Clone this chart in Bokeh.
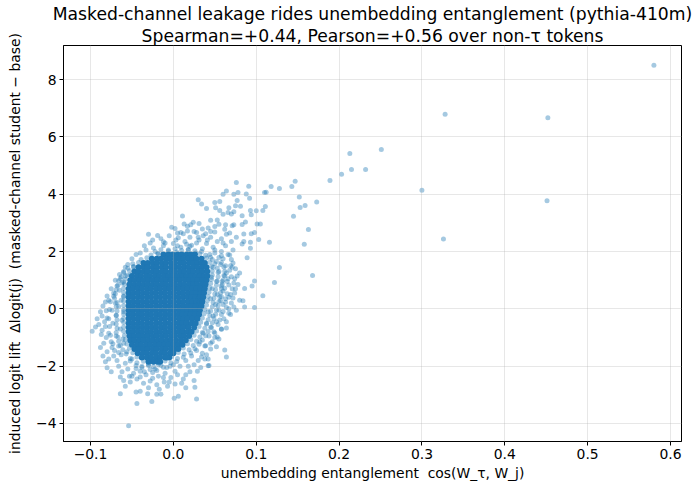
from bokeh.plotting import figure
from bokeh.models import Range1d, FixedTicker, Title
from bokeh.embed import file_html
from bokeh.resources import INLINE

NB = "\u00a0"
title_line1 = "Masked-channel leakage rides unembedding entanglement (pythia-410m)"
title_line2 = "Spearman=+0.44, Pearson=+0.56 over non-\u03c4 tokens"
x_label = "unembedding entanglement " + NB + "cos(W_\u03c4, W_j)"
y_label = ("induced logit lift " + NB + "\u0394logit(j) " + NB +
           "(masked-channel student \u2212 base)")

x_ticks = [-0.1, 0.0, 0.1, 0.2, 0.3, 0.4, 0.5, 0.6]
x_tick_labels = ["\u22120.1", "0.0", "0.1", "0.2", "0.3", "0.4", "0.5", "0.6"]
y_ticks = [-4, -2, 0, 2, 4, 6, 8]
y_tick_labels = ["\u22124", "\u22122", "0", "2", "4", "6", "8"]

# individually read sparse tokens (cos, lift)
sparse_points = [
    (0.580, 8.50), (0.328, 6.79), (0.452, 6.67), (0.251, 5.56), (0.213, 5.42),
    (0.215, 4.86), (0.232, 4.86), (0.203, 4.70), (0.189, 4.48), (0.147, 4.45),
    (0.143, 4.27), (0.118, 4.27), (0.128, 4.20), (0.110, 4.06), (0.112, 4.07),
    (0.300, 4.14), (0.451, 3.77), (0.152, 3.90), (0.173, 3.73), (0.159, 3.61),
    (0.153, 3.54), (0.111, 3.57), (0.108, 3.43), (0.145, 3.23), (0.105, 2.96),
    (0.163, 2.77), (0.326, 2.44), (0.116, 2.32), (0.158, 2.25), (0.128, 1.44),
    (0.168, 1.16), (0.122, 0.92), (0.108, 0.46),
    (0.076, 4.41), (0.091, 4.28), (0.064, 4.11), (0.073, 4.00), (0.078, 4.06),
    (0.088, 4.01), (0.092, 3.86), (0.060, 4.00), (0.030, 3.81), (0.034, 3.66),
    (0.050, 3.71), (0.056, 3.75), (0.077, 3.78), (0.081, 3.58), (0.075, 3.60),
    (0.067, 3.53), (0.040, 3.50), (0.051, 3.53), (0.056, 3.43), (0.060, 3.30),
    (0.066, 3.36), (0.070, 3.31), (0.073, 3.39), (0.083, 3.25), (0.093, 3.43),
    (0.094, 3.28), (0.100, 3.42), (0.101, 2.96), (0.087, 3.03), (0.083, 2.94),
    (0.073, 2.93), (0.063, 2.93), (0.053, 3.10), (0.050, 2.87), (0.045, 3.09),
    (0.031, 2.98), (0.024, 3.02), (0.021, 2.93), (0.013, 2.96), (0.011, 3.24),
    (0.002, 2.80), (0.009, 2.66), (0.017, 2.72), (0.028, 2.66), (0.035, 2.79),
    (0.039, 2.62), (0.068, 2.65), (0.085, 2.61), (0.094, 2.62), (0.098, 2.66),
    (0.103, 2.42), (0.085, 2.35), (0.093, 2.32), (0.093, 2.11), (0.083, 2.26),
    (-0.019, 2.56), (-0.012, 2.34), (0.089, 1.78), (0.098, 0.97), (0.095, 0.80),
    (0.098, 0.05), (0.086, 0.06), (0.086, 0.71), (0.084, 0.28), (0.073, 0.06),
    (0.069, -0.20), (0.064, -0.67), (0.058, -0.71), (0.053, -0.98), (0.052, -1.32),
    (0.062, -1.44), (0.064, -1.68), (0.042, -1.75), (0.034, -1.68), (0.043, -1.98),
    (0.029, -2.18), (0.039, -1.29), (0.047, -1.15),
    (-0.064, -2.96), (-0.044, -3.30), (-0.026, -3.23), (0.001, -3.12), (0.028, -3.15),
    (0.026, -2.74), (0.006, -3.05), (-0.020, -2.98), (-0.015, -2.98), (-0.045, -2.90),
    (-0.040, -2.88), (-0.031, -2.96), (0.042, -1.99), (-0.017, -2.81), (-0.007, -2.70),
    (0.002, -2.62), (-0.054, -4.08),
    (-0.098, -0.78), (-0.094, -0.63), (-0.081, -0.07), (-0.082, 0.24), (-0.072, 0.44),
    (-0.060, 0.94), (-0.052, 1.18), (-0.048, 1.47), (-0.082, -1.85), (-0.080, -2.06),
    (-0.064, -2.38),
]

# medium-density halo around the dense cloud
halo_points = [
    (-0.040, 1.95), (-0.033, 2.05), (-0.024, 2.12), (-0.018, 1.92), (-0.012, 2.20),
    (-0.006, 2.02), (0.000, 2.28), (0.004, 1.98), (0.009, 2.15), (0.014, 2.35),
    (0.018, 2.05), (0.022, 2.22), (0.027, 1.95), (0.031, 2.40), (0.035, 2.10),
    (0.040, 2.28), (0.044, 1.90), (0.048, 2.15), (0.053, 2.35), (0.058, 2.00),
    (0.063, 2.20), (0.068, 1.88), (0.072, 2.05),
    (-0.028, 2.30), (-0.015, 2.45), (-0.005, 2.55), (0.006, 2.48), (0.012, 2.62),
    (0.020, 2.50), (0.025, 2.70), (0.036, 2.55), (0.045, 2.50), (0.050, 2.68),
    (0.058, 2.45), (0.064, 2.60), (0.070, 2.35), (0.076, 2.50),
    (-0.002, 2.85), (0.017, 2.88), (0.042, 2.82), (0.055, 2.95), (0.062, 2.78),
    (0.071, 2.90),
    (0.045, 1.80), (0.052, 1.65), (0.058, 1.85), (0.063, 1.50), (0.070, 1.72),
    (0.075, 1.40), (0.048, 1.45), (0.055, 1.30), (0.062, 1.15), (0.068, 1.35),
    (0.074, 1.05), (0.080, 1.25), (0.046, 1.10), (0.052, 0.95), (0.058, 0.80),
    (0.065, 0.95), (0.071, 0.70), (0.078, 0.85), (0.047, 0.70), (0.053, 0.50),
    (0.060, 0.62), (0.067, 0.40), (0.074, 0.55), (0.080, 0.30), (0.045, 0.35),
    (0.051, 0.15), (0.057, 0.28), (0.064, 0.05), (0.070, 0.20), (0.076, -0.05),
    (0.042, -0.10), (0.048, -0.25), (0.055, -0.05), (0.061, -0.35), (0.067, -0.15),
    (0.040, -0.50), (0.046, -0.65), (0.052, -0.45), (0.058, -0.70), (0.036, -0.85),
    (0.043, -0.95), (0.049, -0.80), (0.055, -1.05), (0.032, -1.15), (0.038, -1.30),
    (0.045, -1.20), (0.028, -1.45), (0.035, -1.55), (0.022, -1.65), (0.030, -1.80),
    (0.015, -1.80), (0.040, -1.60),
    (-0.060, 1.30), (-0.055, 1.55), (-0.050, 1.75), (-0.045, 1.90), (-0.064, 1.05),
    (-0.058, 1.15), (-0.068, 0.80), (-0.062, 0.90), (-0.072, 0.55), (-0.065, 0.65),
    (-0.060, 0.45), (-0.078, 0.30), (-0.070, 0.20), (-0.063, 0.30), (-0.074, -0.05),
    (-0.066, 0.08), (-0.060, -0.10), (-0.086, -0.25), (-0.078, -0.35), (-0.069, -0.22),
    (-0.062, -0.40), (-0.090, -0.55), (-0.082, -0.62), (-0.073, -0.50), (-0.064, -0.70),
    (-0.087, -0.90), (-0.078, -0.85), (-0.069, -0.95), (-0.061, -1.05), (-0.084, -1.20),
    (-0.075, -1.15), (-0.066, -1.30), (-0.060, -1.20), (-0.080, -1.50), (-0.071, -1.45),
    (-0.063, -1.60), (-0.056, -1.50), (-0.078, -1.75), (-0.068, -1.80), (-0.058, -1.90),
    (-0.050, -1.75),
    (-0.045, -1.98), (-0.038, -2.05), (-0.030, -1.95), (-0.022, -2.10), (-0.015, -1.98),
    (-0.008, -2.05), (0.000, -1.95), (0.008, -2.00), (-0.055, -2.10), (-0.048, -2.25),
    (-0.040, -2.18), (-0.033, -2.30), (-0.025, -2.22), (-0.018, -2.35), (-0.010, -2.25),
    (-0.003, -2.40), (0.005, -2.30), (0.012, -2.45), (0.020, -2.20), (-0.060, -2.50),
    (-0.052, -2.55), (-0.044, -2.45), (-0.036, -2.60), (-0.028, -2.52), (-0.020, -2.65),
    (-0.011, -2.55), (0.010, -2.60), (0.018, -2.00), (0.025, -2.50),
    (0.050, 1.95), (0.060, 1.75), (0.066, 1.90), (0.072, 1.60), (0.057, 1.55),
    (0.064, 1.25), (0.071, 1.45), (0.077, 1.15), (0.059, 0.95), (0.066, 1.05),
    (0.073, 0.90), (0.062, 0.72), (0.069, 0.50), (0.075, 0.70), (0.058, 0.42),
    (0.063, 0.35), (0.072, 0.38), (0.060, 0.15), (0.067, 0.00), (0.058, -0.20),
    (0.064, -0.45), (0.054, -0.55), (0.050, -1.00), (0.045, -1.40), (0.038, -1.75),
    (0.025, -1.95), (0.033, -2.05),
    (-0.058, 1.45), (-0.065, 1.20), (-0.070, 1.00), (-0.075, 0.70), (-0.080, 0.45),
    (-0.085, 0.10), (-0.088, -0.10), (-0.083, -0.45), (-0.092, -0.35), (-0.086, -0.75),
    (-0.081, -1.00), (-0.088, -1.35), (-0.074, -1.35), (-0.085, -1.65), (-0.072, -1.65),
    (-0.066, -2.00), (-0.075, -2.20), (-0.062, -2.20), (-0.053, -2.35),
    (-0.035, 2.20), (-0.025, 2.40), (-0.010, 2.30), (0.003, 2.40), (0.016, 2.25),
    (0.028, 2.30), (0.041, 2.40), (0.050, 2.05), (0.060, 2.30), (-0.030, 2.60),
    (0.005, 2.65), (0.030, 2.50), (0.045, 2.70),
    (-0.050, -2.35), (-0.040, -2.38), (-0.025, -2.42), (-0.012, -2.40), (0.002, -2.18),
    (0.015, -2.30), (-0.058, -2.70), (-0.030, -2.75), (-0.005, -2.55), (0.015, -2.75),
]

# tokens just outside the saturated core
rim_points = [
    (-0.019, 1.93), (-0.027, 1.88), (0.032, 1.92), (0.039, 1.87),
    (-0.032, 1.78), (-0.039, 1.72), (0.040, 1.77), (0.047, 1.72), (0.055, 1.79),
    (-0.042, 1.62), (-0.049, 1.57), (0.044, 1.63), (0.050, 1.57), (0.058, 1.62),
    (-0.048, 1.47), (-0.055, 1.42), (0.046, 1.48), (0.053, 1.42), (0.061, 1.46), (0.069, 1.50),
    (-0.053, 1.33), (-0.060, 1.27), (0.047, 1.32), (0.054, 1.27), (0.062, 1.31),
    (-0.056, 1.17), (-0.063, 1.12), (0.047, 1.18), (0.054, 1.12), (0.061, 1.16), (0.070, 1.12),
    (-0.058, 1.03), (-0.066, 0.98), (0.046, 1.02), (0.053, 0.97), (0.060, 1.01),
    (-0.059, 0.87), (-0.067, 0.82), (0.045, 0.88), (0.052, 0.82), (0.059, 0.86), (0.067, 0.83),
    (-0.060, 0.72), (-0.069, 0.67), (0.044, 0.73), (0.051, 0.67), (0.058, 0.71),
    (-0.060, 0.57), (-0.070, 0.53), (0.043, 0.58), (0.050, 0.52), (0.057, 0.56), (0.065, 0.53),
    (-0.060, 0.42), (-0.071, 0.37), (0.042, 0.43), (0.049, 0.37), (0.056, 0.41),
    (-0.060, 0.27), (-0.068, 0.22), (-0.076, 0.25), (0.041, 0.28), (0.048, 0.22), (0.055, 0.26), (0.063, 0.23),
    (-0.060, 0.12), (-0.069, 0.07), (0.040, 0.13), (0.047, 0.07), (0.054, 0.11),
    (-0.060, -0.03), (-0.068, -0.08), (-0.077, -0.02), (0.038, -0.02), (0.045, -0.08), (0.052, -0.04), (0.060, -0.09),
    (-0.060, -0.18), (-0.069, -0.23), (0.037, -0.17), (0.044, -0.23), (0.051, -0.19),
    (-0.060, -0.33), (-0.068, -0.38), (-0.080, -0.32), (0.035, -0.32), (0.042, -0.38), (0.049, -0.34), (0.056, -0.39),
    (-0.060, -0.48), (-0.069, -0.53), (0.033, -0.47), (0.040, -0.53), (0.047, -0.49),
    (-0.060, -0.63), (-0.068, -0.68), (-0.077, -0.62), (0.031, -0.62), (0.038, -0.68), (0.045, -0.64),
    (-0.060, -0.78), (-0.069, -0.83), (0.028, -0.77), (0.035, -0.83), (0.042, -0.79), (0.050, -0.84),
    (-0.059, -0.93), (-0.067, -0.98), (-0.076, -0.92), (0.025, -0.92), (0.032, -0.98), (0.039, -0.94),
    (-0.058, -1.08), (-0.066, -1.13), (0.021, -1.07), (0.028, -1.13), (0.035, -1.09),
    (-0.056, -1.23), (-0.064, -1.28), (-0.073, -1.22), (0.017, -1.22), (0.024, -1.28), (0.031, -1.24),
    (-0.053, -1.38), (-0.061, -1.43), (0.012, -1.37), (0.019, -1.43), (0.026, -1.39),
    (-0.049, -1.53), (-0.057, -1.58), (-0.066, -1.52), (0.006, -1.52), (0.013, -1.58), (0.021, -1.54),
    (-0.044, -1.68), (-0.052, -1.73), (-0.002, -1.67), (0.005, -1.73), (0.012, -1.69),
    (-0.036, -1.83), (-0.044, -1.88), (-0.052, -1.82), (-0.010, -1.82), (-0.003, -1.88), (0.004, -1.84),
    (-0.006, 2.05), (0.002, 2.10), (0.010, 2.04), (0.018, 2.08), (0.026, 2.03),
    (-0.015, 2.06), (0.005, 2.20), (0.020, 2.18), (0.034, 2.00), (-0.022, 2.00),
    (-0.030, -1.98), (-0.024, -2.02), (-0.018, -1.96), (-0.012, -2.04), (-0.038, -2.00),
    (-0.045, -2.08), (-0.004, -2.00), (-0.028, -2.12), (-0.020, -2.15), (-0.035, -2.20),
]

# saturated core of the cloud, read as rows (lift level, cos values along the row)
core_row_lift = [1.90, 1.75, 1.60, 1.45, 1.30, 1.15, 1.00, 0.85, 0.70, 0.55, 0.40, 0.25,
                 0.10, -0.05, -0.20, -0.35, -0.50, -0.65, -0.80, -0.95, -1.10,
                 -1.25, -1.40, -1.55, -1.70, -1.85]
core_row_cos = [
    [-0.012, -0.006, -0.001, 0.005, 0.010, 0.016, 0.021, 0.026],
    [-0.026, -0.020, -0.015, -0.009, -0.004, 0.002, 0.007, 0.012, 0.018, 0.023, 0.028, 0.034],
    [-0.036, -0.031, -0.025, -0.020, -0.014, -0.009, -0.003, 0.002, 0.008, 0.013, 0.019, 0.024, 0.029, 0.034, 0.038],
    [-0.042, -0.036, -0.031, -0.025, -0.020, -0.014, -0.009, -0.003, 0.002, 0.007, 0.013, 0.018, 0.024, 0.029, 0.035, 0.040],
    [-0.047, -0.042, -0.036, -0.031, -0.025, -0.020, -0.014, -0.009, -0.003, 0.002, 0.008, 0.013, 0.019, 0.024, 0.030, 0.035, 0.041],
    [-0.050, -0.044, -0.039, -0.033, -0.028, -0.022, -0.017, -0.011, -0.006, 0.000, 0.005, 0.011, 0.016, 0.022, 0.027, 0.032, 0.037, 0.041],
    [-0.052, -0.047, -0.041, -0.036, -0.030, -0.025, -0.019, -0.014, -0.008, -0.003, 0.003, 0.008, 0.014, 0.019, 0.024, 0.029, 0.035, 0.040],
    [-0.053, -0.047, -0.042, -0.036, -0.031, -0.025, -0.020, -0.014, -0.009, -0.003, 0.002, 0.008, 0.013, 0.019, 0.024, 0.029, 0.034, 0.039],
    [-0.054, -0.049, -0.043, -0.038, -0.032, -0.027, -0.021, -0.016, -0.010, -0.005, 0.001, 0.006, 0.012, 0.017, 0.023, 0.028, 0.033, 0.038],
    [-0.054, -0.048, -0.043, -0.037, -0.032, -0.026, -0.021, -0.015, -0.010, -0.004, 0.001, 0.007, 0.012, 0.018, 0.023, 0.028, 0.033, 0.037],
    [-0.054, -0.049, -0.043, -0.038, -0.032, -0.027, -0.021, -0.016, -0.010, -0.005, 0.001, 0.006, 0.012, 0.017, 0.022, 0.027, 0.032, 0.036],
    [-0.054, -0.048, -0.043, -0.037, -0.032, -0.026, -0.021, -0.015, -0.010, -0.004, 0.001, 0.007, 0.012, 0.018, 0.023, 0.028, 0.032, 0.035],
    [-0.054, -0.049, -0.043, -0.038, -0.032, -0.027, -0.021, -0.016, -0.010, -0.005, 0.001, 0.006, 0.012, 0.017, 0.022, 0.027, 0.031, 0.034],
    [-0.054, -0.048, -0.043, -0.037, -0.032, -0.026, -0.021, -0.015, -0.010, -0.004, 0.001, 0.007, 0.012, 0.017, 0.022, 0.027, 0.032],
    [-0.054, -0.049, -0.043, -0.038, -0.032, -0.027, -0.021, -0.016, -0.010, -0.005, 0.001, 0.006, 0.011, 0.016, 0.021, 0.026, 0.031],
    [-0.054, -0.048, -0.043, -0.037, -0.032, -0.026, -0.021, -0.015, -0.010, -0.004, 0.001, 0.007, 0.012, 0.017, 0.023, 0.029],
    [-0.054, -0.049, -0.043, -0.038, -0.032, -0.027, -0.021, -0.016, -0.010, -0.005, 0.001, 0.006, 0.011, 0.016, 0.022, 0.027],
    [-0.054, -0.048, -0.043, -0.037, -0.032, -0.026, -0.021, -0.015, -0.010, -0.004, 0.001, 0.007, 0.012, 0.018, 0.025],
    [-0.054, -0.049, -0.043, -0.038, -0.032, -0.027, -0.021, -0.016, -0.010, -0.005, 0.001, 0.006, 0.011, 0.017, 0.022],
    [-0.053, -0.047, -0.042, -0.036, -0.031, -0.025, -0.020, -0.014, -0.009, -0.003, 0.002, 0.008, 0.013, 0.019],
    [-0.052, -0.047, -0.041, -0.036, -0.030, -0.025, -0.019, -0.014, -0.008, -0.003, 0.003, 0.009, 0.015],
    [-0.050, -0.044, -0.039, -0.033, -0.028, -0.022, -0.017, -0.011, -0.006, 0.000, 0.006, 0.011],
    [-0.047, -0.042, -0.036, -0.031, -0.025, -0.020, -0.014, -0.009, -0.003, 0.002, 0.006],
    [-0.043, -0.037, -0.032, -0.026, -0.021, -0.015, -0.010, -0.004, 0.000],
    [-0.038, -0.032, -0.027, -0.021, -0.016, -0.010, -0.005, -0.008],
    [-0.030, -0.024, -0.019, -0.016],
]

BLUE = "#1f77b4"
FONT = "DejaVu Sans"

p = figure(width=693, height=484, output_backend="svg", toolbar_location=None,
           x_range=Range1d(-0.1326, 0.6133), y_range=Range1d(-4.63, 9.19),
           min_border_left=63, min_border_right=12, min_border_top=45, min_border_bottom=43,
           background_fill_color="white", border_fill_color="white")

p.add_layout(Title(text=title_line2, align="center", text_font=FONT, text_font_size="17.2px",
                   text_font_style="normal", text_color="black", standoff=0), "above")
p.add_layout(Title(text=title_line1, align="center", text_font=FONT, text_font_size="17.2px",
                   text_font_style="normal", text_color="black", standoff=0), "above")

loose = sparse_points + halo_points + rim_points
loose_x = [pt[0] for pt in loose]
loose_y = [pt[1] for pt in loose]
core_x = [c for row in core_row_cos for c in row]
core_y = [lift for lift, row in zip(core_row_lift, core_row_cos) for _ in row]

p.scatter(core_x, core_y, size=6, fill_color=BLUE, line_color=None, fill_alpha=1.0)
p.scatter(loose_x, loose_y, size=5, fill_color=BLUE, line_color=None, fill_alpha=0.4)

p.xaxis.ticker = FixedTicker(ticks=x_ticks)
p.yaxis.ticker = FixedTicker(ticks=y_ticks)
p.xaxis.major_label_overrides = dict(zip(x_ticks, x_tick_labels))
p.yaxis.major_label_overrides = dict(zip(y_ticks, y_tick_labels))
p.xaxis.axis_label = x_label
p.yaxis.axis_label = y_label

for ax in (p.xaxis, p.yaxis):
    ax.axis_label_text_font = FONT
    ax.axis_label_text_font_size = "13.9px"
    ax.axis_label_text_font_style = "normal"
    ax.axis_label_text_color = "black"
    ax.major_label_text_font = FONT
    ax.major_label_text_font_size = "13.9px"
    ax.major_label_text_color = "black"
    ax.major_tick_out = 4
    ax.major_tick_in = 0
    ax.minor_tick_line_color = None
    ax.axis_line_color = "black"
    ax.major_tick_line_color = "black"
    ax.major_label_standoff = 3

p.xaxis.axis_label_standoff = 3
p.yaxis.axis_label_standoff = 10

p.outline_line_color = "black"
p.outline_line_width = 1

for g in (p.xgrid, p.ygrid):
    g.grid_line_color = "#b0b0b0"
    g.grid_line_alpha = 0.3
    g.grid_line_width = 1
    g.level = "overlay"

open("out.html", "w").write(file_html(p, INLINE))
